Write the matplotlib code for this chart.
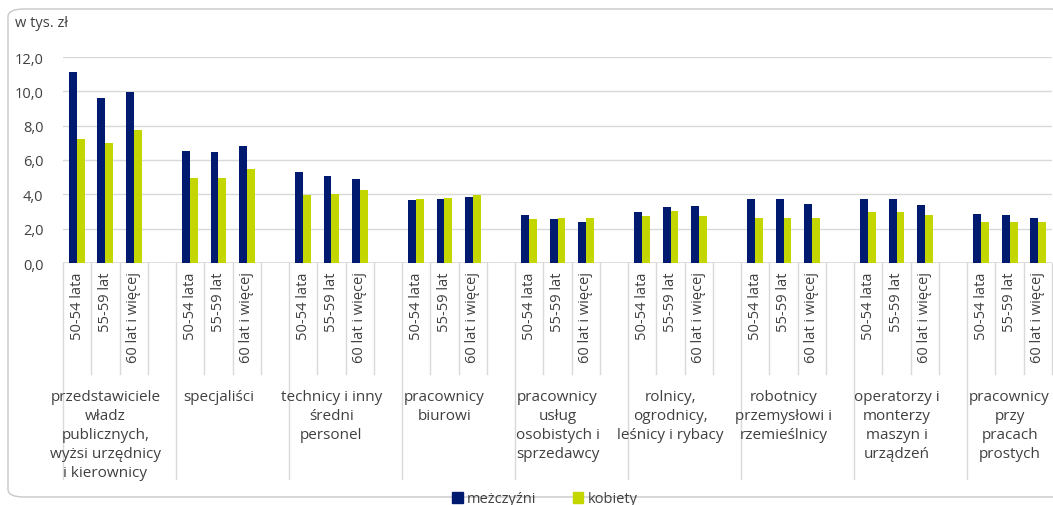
import numpy as np
import matplotlib.pyplot as plt
from matplotlib.patches import FancyBboxPatch, Patch
import matplotlib.transforms as mtransforms

plt.rcParams['font.family'] = ['Open Sans', 'DejaVu Sans']

groups = [
    'przedstawiciele\nwładz\npublicznych,\nwyżsi urzędnicy\ni kierownicy',
    'specjaliści',
    'technicy i inny\nśredni\npersonel',
    'pracownicy\nbiurowi',
    'pracownicy\nusług\nosobistych i\nsprzedawcy',
    'rolnicy,\nogrodnicy,\nleśnicy i rybacy',
    'robotnicy\nprzemysłowi i\nrzemieślnicy',
    'operatorzy i\nmonterzy\nmaszyn i\nurządzeń',
    'pracownicy\nprzy\npracach\nprostych',
]
ages = ['50-54 lata', '55-59 lat', '60 lat i więcej']

men = [
    [11.1, 9.6, 9.95],
    [6.55, 6.45, 6.8],
    [5.3, 5.05, 4.9],
    [3.65, 3.7, 3.85],
    [2.8, 2.55, 2.4],
    [2.95, 3.25, 3.3],
    [3.7, 3.7, 3.45],
    [3.7, 3.75, 3.4],
    [2.85, 2.8, 2.65],
]
women = [
    [7.25, 7.0, 7.75],
    [4.95, 4.95, 5.5],
    [3.95, 4.0, 4.25],
    [3.7, 3.8, 3.95],
    [2.55, 2.6, 2.65],
    [2.75, 3.05, 2.75],
    [2.65, 2.65, 2.65],
    [2.95, 2.95, 2.8],
    [2.4, 2.4, 2.4],
]

navy = '#001a70'
lime = '#c3d600'
txt = '#404040'
grid = '#d9d9d9'

fig = plt.figure(figsize=(10.53, 5.06), dpi=100)
ax = fig.add_axes([63 / 1053, 242 / 506, (1052 - 63) / 1053, 206 / 506])

# frame around the chart
fig.patches.append(FancyBboxPatch((8 / 1053, 8 / 506), 1060 / 1053, 488 / 506,
                                  boxstyle='round,pad=0,rounding_size=0.015',
                                  transform=fig.transFigure, fc='none',
                                  ec='#c8c8c8', lw=1.0, zorder=0))

w = 0.28
pos = []
for g in range(len(groups)):
    for a in range(3):
        pos.append(g * 4 + a)
pos = np.array(pos)
m = np.array(men).ravel()
k = np.array(women).ravel()
ax.bar(pos - w / 2, m, w, color=navy, zorder=3)
ax.bar(pos + w / 2, k, w, color=lime, zorder=3)

ax.set_xlim(-0.5, 34.5)
ax.set_ylim(0, 12)
ax.set_yticks(np.arange(0, 13, 2))
ax.set_yticklabels([f'{v:.1f}'.replace('.', ',') for v in np.arange(0, 13, 2)])
ax.yaxis.grid(True, color=grid, lw=1)
ax.set_axisbelow(True)
for s in ax.spines.values():
    s.set_visible(False)
ax.tick_params(axis='y', length=0, labelsize=10.5, colors=txt, pad=14)

ax.set_xticks(pos)
ax.set_xticklabels(ages * len(groups), rotation=90, va='top', ha='center')
ax.tick_params(axis='x', length=0, labelsize=10.5, colors=txt, pad=6)

# separators below the axis
trans = mtransforms.blended_transform_factory(ax.transData, ax.transAxes)
bounds = np.arange(-0.5, 35, 1)
for b in bounds:
    long = (b + 0.5) % 4 == 0
    ax.plot([b, b], [0, -1.05 if long else -0.54], color=grid, lw=1,
            transform=trans, clip_on=False)
ax.axhline(0, color=grid, lw=1.2, zorder=2)

for g, name in enumerate(groups):
    ax.text(g * 4 + 1.0, -0.61, name, transform=trans, ha='center', va='top',
            fontsize=11, color=txt, linespacing=1.38)

fig.text(15 / 1053, 1 - 24 / 506, 'w tys. zł', fontsize=10.5, color=txt, va='center')

handles = [Patch(color=navy, label='meżczyźni'), Patch(color=lime, label='kobiety')]
fig.legend(handles=handles, loc='center', bbox_to_anchor=(545 / 1053, 6 / 506),
           ncol=2, frameon=False, fontsize=10.5, handlelength=0.7, handleheight=0.7,
           handletextpad=0.3, columnspacing=2.5, labelcolor=txt)

fig.savefig('out.png', dpi=100)
